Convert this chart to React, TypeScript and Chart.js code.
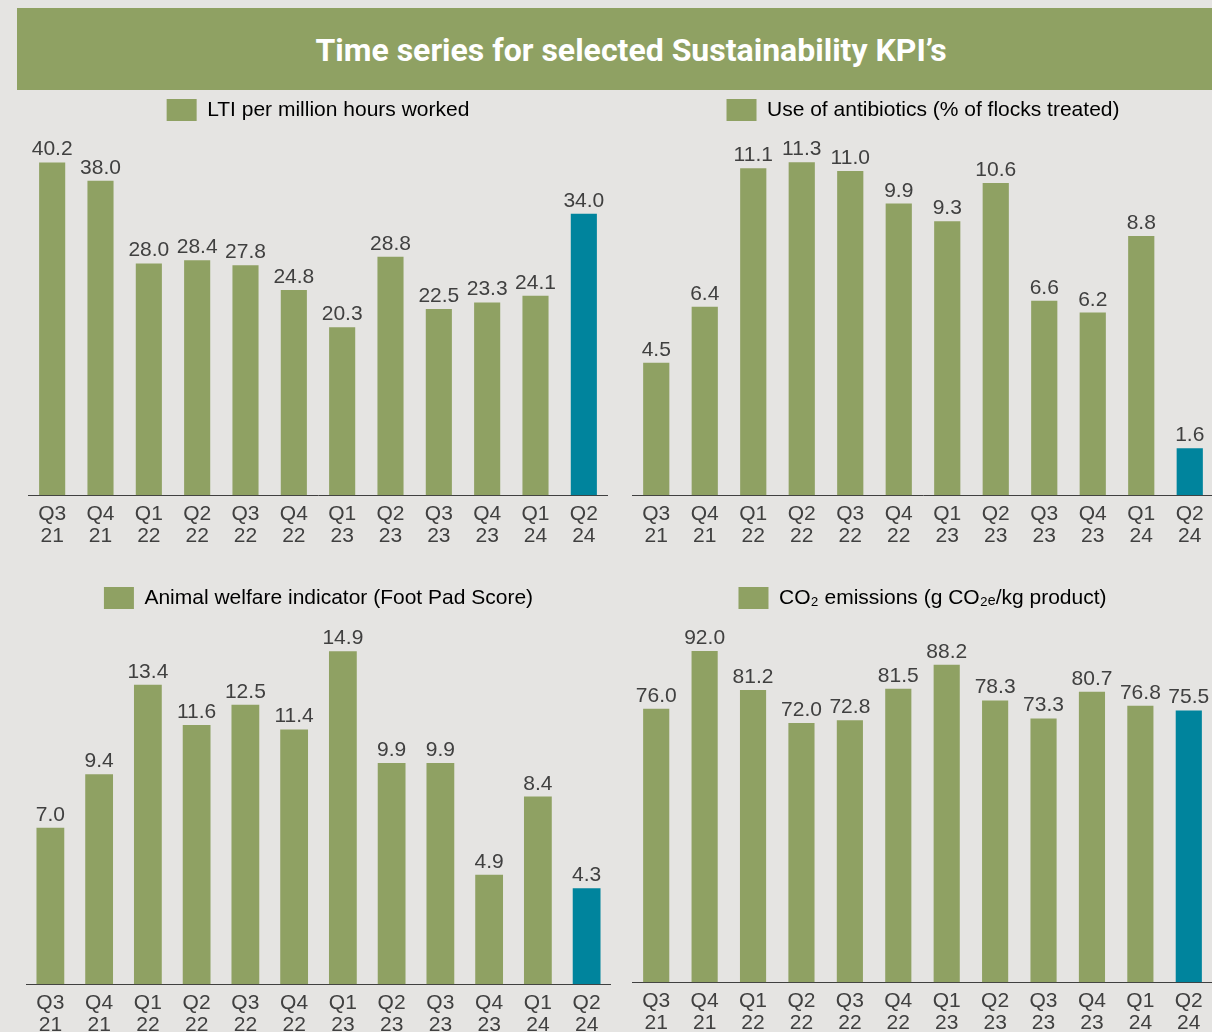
import React, { useEffect, useRef } from "react";
import { Chart, registerables } from "chart.js";

Chart.register(...registerables);

const FONT = "'Liberation Sans', Arial, sans-serif";
const TEXT = "#404040";
const GREEN = "#8fa163";
const TEAL = "#00849d";
const BG = "#e5e4e2";

const titleText = "Time series for selected Sustainability KPI\u2019s";

const quarterLabels = [
  ["Q3", "21"], ["Q4", "21"], ["Q1", "22"], ["Q2", "22"], ["Q3", "22"], ["Q4", "22"],
  ["Q1", "23"], ["Q2", "23"], ["Q3", "23"], ["Q4", "23"], ["Q1", "24"], ["Q2", "24"],
];

const ltiLabel = "LTI per million hours worked";
const ltiValues = [40.2, 38.0, 28.0, 28.4, 27.8, 24.8, 20.3, 28.8, 22.5, 23.3, 24.1, 34.0];

const antibioticsLabel = "Use of antibiotics (% of flocks treated)";
const antibioticsValues = [4.5, 6.4, 11.1, 11.3, 11.0, 9.9, 9.3, 10.6, 6.6, 6.2, 8.8, 1.6];

const footPadLabel = "Animal welfare indicator (Foot Pad Score)";
const footPadValues = [7.0, 9.4, 13.4, 11.6, 12.5, 11.4, 14.9, 9.9, 9.9, 4.9, 8.4, 4.3];

const co2Label = "CO\u2082 emissions (g CO\u2082\u2091/kg product)";
const co2Values = [76.0, 92.0, 81.2, 72.0, 72.8, 81.5, 88.2, 78.3, 73.3, 80.7, 76.8, 75.5];

const valueLabelsPlugin = {
  id: "valueLabels",
  afterDatasetsDraw(chart: any) {
    const ctx = chart.ctx;
    const meta = chart.getDatasetMeta(0);
    const data = chart.data.datasets[0].data as number[];
    ctx.save();
    ctx.font = `21px ${FONT}`;
    ctx.fillStyle = TEXT;
    ctx.textAlign = "center";
    ctx.textBaseline = "alphabetic";
    meta.data.forEach((bar: any, i: number) => {
      ctx.fillText(Number(data[i]).toFixed(1), bar.x, bar.y - 7);
    });
    ctx.restore();
  },
};

type PanelProps = {
  label: string;
  values: number[];
  max: number;
  left: number;
  top: number;
  width: number;
  height: number;
  barPct: number;
};

function BarPanel({ label, values, max, left, top, width, height, barPct }: PanelProps) {
  const ref = useRef<HTMLCanvasElement>(null);
  useEffect(() => {
    if (!ref.current) return;
    const last = values.length - 1;
    const chart = new Chart(ref.current, {
      type: "bar",
      data: {
        labels: quarterLabels,
        datasets: [
          {
            label,
            data: values,
            backgroundColor: (c: any) => (c.dataIndex === last ? TEAL : GREEN),
            borderWidth: 0,
            barPercentage: barPct,
            categoryPercentage: 1,
          },
        ],
      },
      options: {
        responsive: false,
        animation: false,
        devicePixelRatio: 1,
        layout: { padding: 0 },
        plugins: {
          tooltip: { enabled: false },
          legend: {
            display: true,
            position: "top",
            labels: {
              boxWidth: 30,
              boxHeight: 22,
              padding: 10,
              color: TEXT,
              font: { family: FONT, size: 21 },
              generateLabels: () => [
                {
                  text: label,
                  fillStyle: GREEN,
                  strokeStyle: GREEN,
                  lineWidth: 0,
                  hidden: false,
                  datasetIndex: 0,
                },
              ],
            },
          },
        },
        scales: {
          x: {
            offset: true,
            grid: { display: false, drawTicks: false },
            border: { display: true, color: TEXT, width: 1 },
            ticks: {
              color: TEXT,
              padding: 8,
              maxRotation: 0,
              autoSkip: false,
              font: { family: FONT, size: 21, lineHeight: 1.04 },
            },
          },
          y: {
            display: false,
            min: 0,
            max,
          },
        },
      },
      plugins: [valueLabelsPlugin],
    });
    return () => chart.destroy();
  }, []);
  return (
    <canvas
      ref={ref}
      width={width}
      height={height}
      style={{ position: "absolute", left, top, width, height }}
    />
  );
}

export default function App() {
  return (
    <div
      style={{
        position: "fixed",
        left: 0,
        top: 0,
        width: 1212,
        height: 1032,
        background: BG,
        overflow: "hidden",
      }}
    >
      <div
        style={{
          position: "absolute",
          left: 17,
          top: 8,
          width: 1228,
          height: 82,
          background: GREEN,
          color: "#ffffff",
          fontFamily: "Roboto, 'Liberation Sans', Arial, sans-serif",
          fontWeight: 700,
          fontSize: 32,
          lineHeight: "84px",
          textAlign: "center",
        }}
      >
        {titleText}
      </div>
      <BarPanel label={ltiLabel} values={ltiValues} max={44.0} left={28} top={89} width={580} height={466} barPct={0.54} />
      <BarPanel label={antibioticsLabel} values={antibioticsValues} max={12.36} left={632} top={89} width={582} height={466} barPct={0.54} />
      <BarPanel label={footPadLabel} values={footPadValues} max={16.34} left={26} top={577} width={585} height={467} barPct={0.57} />
      <BarPanel label={co2Label} values={co2Values} max={100.9} left={632} top={577} width={581} height={465} barPct={0.54} />
    </div>
  );
}
